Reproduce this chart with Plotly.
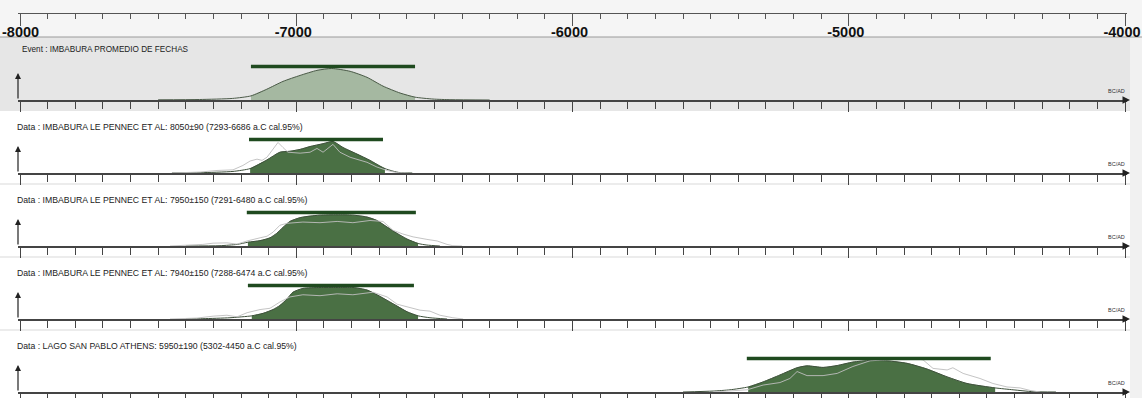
import plotly.graph_objects as go

W, H = 1142, 398

# ---------------- data ----------------
titles = [
    "Event : IMBABURA PROMEDIO DE FECHAS",
    "Data : IMBABURA LE PENNEC ET AL: 8050±90 (7293-6686 a.C cal.95%)",
    "Data : IMBABURA LE PENNEC ET AL: 7950±150 (7291-6480 a.C cal.95%)",
    "Data : IMBABURA LE PENNEC ET AL: 7940±150 (7288-6474 a.C cal.95%)",
    "Data : LAGO SAN PABLO ATHENS: 5950±190 (5302-4450 a.C cal.95%)",
]

axis_ticks = [-8000, -7000, -6000, -5000, -4000]
axis_labels = ["-8000", "-7000", "-6000", "-5000", "-4000"]

# panel 1 (event)
p1_x = [-7500, -7350, -7230, -7164, -7107, -7048, -6986, -6925, -6872, -6805, -6744, -6686, -6624, -6570, -6505, -6440, -6300]
p1_y = [0.006, 0.016, 0.05, 0.13, 0.34, 0.59, 0.78, 0.94, 1.0, 0.91, 0.72, 0.44, 0.22, 0.09, 0.03, 0.01, 0.0]
p1_range = [-7164, -6570]
p1_bar = [-7164, -6570]

# panel 2
p2_x = [-7450, -7348, -7229, -7167, -7107, -7059, -7023, -6986, -6950, -6903, -6867, -6831, -6780, -6733, -6697, -6679, -6650, -6624, -6580]
p2_y = [0, 0.01, 0.05, 0.14, 0.41, 0.66, 0.69, 0.75, 0.84, 0.93, 1.0, 0.81, 0.6, 0.4, 0.22, 0.14, 0.06, 0.01, 0]
p2_lx = [-7450, -7348, -7287, -7229, -7193, -7167, -7142, -7124, -7106, -7084, -7066, -7048, -7030, -6986, -6950, -6925, -6903, -6867, -6842, -6805, -6744, -6708, -6671, -6635, -6600]
p2_ly = [0, 0.03, 0.08, 0.1, 0.24, 0.38, 0.44, 0.4, 0.5, 0.75, 0.97, 0.81, 0.66, 0.63, 0.66, 0.78, 0.66, 0.91, 0.66, 0.5, 0.34, 0.19, 0.08, 0.01, 0]
p2_range = [-7167, -6679]
p2_bar = [-7171, -6686]

# panel 3
p3_x = [-7400, -7276, -7214, -7175, -7131, -7095, -7071, -7048, -7023, -6986, -6950, -6914, -6852, -6795, -6744, -6708, -6671, -6635, -6599, -6559, -6527, -6480]
p3_y = [0, 0.01, 0.05, 0.12, 0.17, 0.26, 0.4, 0.59, 0.78, 0.9, 0.95, 0.98, 0.99, 0.98, 0.92, 0.81, 0.6, 0.4, 0.22, 0.08, 0.03, 0]
p3_lx = [-7457, -7395, -7338, -7301, -7251, -7214, -7178, -7131, -7106, -7084, -7059, -7033, -6976, -6914, -6852, -6795, -6733, -6686, -6650, -6614, -6577, -6527, -6490, -6454, -6433, -6400]
p3_ly = [0, 0.02, 0.05, 0.09, 0.1, 0.06, 0.16, 0.26, 0.31, 0.44, 0.66, 0.72, 0.76, 0.74, 0.78, 0.74, 0.81, 0.78, 0.5, 0.38, 0.29, 0.21, 0.16, 0.05, 0.01, 0]
p3_range = [-7175, -6559]
p3_bar = [-7179, -6567]

# panel 4
p4_x = [-7400, -7338, -7240, -7161, -7120, -7084, -7059, -7033, -7012, -6976, -6914, -6852, -6795, -6744, -6708, -6671, -6635, -6599, -6559, -6516, -6454]
p4_y = [0, 0.01, 0.04, 0.1, 0.18, 0.3, 0.43, 0.64, 0.85, 0.97, 1.0, 1.0, 1.0, 0.92, 0.77, 0.59, 0.41, 0.23, 0.1, 0.04, 0]
p4_lx = [-7457, -7359, -7301, -7251, -7214, -7178, -7131, -7095, -7059, -7023, -6976, -6914, -6852, -6795, -6722, -6671, -6635, -6599, -6552, -6516, -6480, -6433, -6396]
p4_ly = [0, 0.03, 0.09, 0.12, 0.07, 0.2, 0.3, 0.34, 0.54, 0.7, 0.77, 0.74, 0.8, 0.77, 0.85, 0.7, 0.47, 0.38, 0.28, 0.25, 0.12, 0.04, 0]
p4_range = [-7161, -6559]
p4_bar = [-7175, -6574]

# panel 5
p5_x = [-5600, -5491, -5430, -5364, -5310, -5249, -5187, -5151, -5093, -5042, -4985, -4923, -4861, -4789, -4717, -4644, -4572, -4470, -4405, -4333, -4250]
p5_y = [0, 0.03, 0.07, 0.16, 0.32, 0.54, 0.77, 0.83, 0.78, 0.84, 0.95, 1.0, 0.99, 0.91, 0.73, 0.48, 0.27, 0.13, 0.07, 0.01, 0]
p5_lx = [-5491, -5368, -5310, -5249, -5213, -5187, -5151, -5093, -5042, -4985, -4923, -4861, -4767, -4731, -4695, -4644, -4623, -4586, -4525, -4478, -4427, -4380, -4344, -4308]
p5_ly = [0, 0.07, 0.22, 0.3, 0.43, 0.65, 0.52, 0.52, 0.59, 0.81, 0.99, 1.02, 1.07, 1.02, 0.75, 0.7, 0.77, 0.59, 0.43, 0.27, 0.16, 0.13, 0.05, 0]
p5_range = [-5364, -4470]
p5_bar = [-5369, -4486]

panels = [
    dict(x=p1_x, y=p1_y, lx=None, ly=None, rng=p1_range, bar=p1_bar),
    dict(x=p2_x, y=p2_y, lx=p2_lx, ly=p2_ly, rng=p2_range, bar=p2_bar),
    dict(x=p3_x, y=p3_y, lx=p3_lx, ly=p3_ly, rng=p3_range, bar=p3_bar),
    dict(x=p4_x, y=p4_y, lx=p4_lx, ly=p4_ly, rng=p4_range, bar=p4_bar),
    dict(x=p5_x, y=p5_y, lx=p5_lx, ly=p5_ly, rng=p5_range, bar=p5_bar),
]

# ---------------- layout geometry (pixels) ----------------
X_LEFT, X_RIGHT = 18, 1127           # axis extent in px
PX_PER_YEAR = 1105 / 4000.0
XR = [-8000 - (20 - X_LEFT) / PX_PER_YEAR, -4000 + (X_RIGHT - 1125) / PX_PER_YEAR]
XDOM = [X_LEFT / W, X_RIGHT / W]
baselines = [100, 173, 246, 319, 392]
panel_tops = [37, 111, 184, 257, 330]
title_y = [50, 127, 200, 273, 346]
title_x = [20, 15, 15, 15, 15]
title_size = [8.2, 8.7, 8.7, 8.7, 8.7]
UNIT_PX = 31.5
DOM_PX = 40
BAR_LEVEL = 33.5 / UNIT_PX
FONT = "Liberation Sans"


def py(p):
    return 1 - p / H


minor_vals = list(range(-8000, -3999, 100))
tick_font = dict(family=FONT, size=14.5, color="#111", weight="bold")

fig = go.Figure()
layout = dict(
    width=W, height=H, margin=dict(l=0, r=0, t=0, b=0),
    paper_bgcolor="white", plot_bgcolor="rgba(0,0,0,0)",
    showlegend=False,
)

# top axis: short major ticks + labels (first label drawn separately against the left edge)
layout["xaxis"] = dict(
    domain=XDOM, range=XR, anchor="y", showline=True, linecolor="#555", linewidth=1,
    tickmode="array", tickvals=axis_ticks, ticktext=[""] + axis_labels[1:], ticks="outside",
    ticklen=6, tickcolor="#555", tickwidth=1, tickfont=tick_font, showgrid=False,
    zeroline=False, ticklabelshift=-3, automargin=False,
    minor=dict(tickmode="array", tickvals=minor_vals, ticks="outside", ticklen=5,
               tickcolor="#555", tickwidth=1, showgrid=False),
)
# overlay axis providing the long major ticks
layout["xaxis7"] = dict(
    domain=XDOM, range=XR, anchor="y", overlaying="x", matches="x", showline=False,
    tickmode="array", tickvals=axis_ticks, ticks="outside", ticklen=12, tickcolor="#555",
    tickwidth=1, showticklabels=False, showgrid=False, zeroline=False, automargin=False,
)
layout["yaxis"] = dict(domain=[py(13), 1], range=[0, 1], visible=False, anchor="x")
fig.add_trace(go.Scatter(x=[], y=[], xaxis="x", yaxis="y"))
fig.add_trace(go.Scatter(x=[], y=[], xaxis="x7", yaxis="y"))

shapes = []
annotations = []

# first axis label, pushed against the left edge
annotations.append(dict(text=axis_labels[0], xref="paper", yref="paper", x=0, y=py(31.5),
                        xanchor="left", yanchor="middle", xshift=0, showarrow=False,
                        font=tick_font))

# backgrounds
shapes.append(dict(type="rect", xref="paper", yref="paper", x0=0, x1=1, y0=py(37), y1=1,
                   fillcolor="#f5f5f5", line_width=0, layer="below"))
shapes.append(dict(type="rect", xref="paper", yref="paper", x0=0, x1=1130 / W, y0=py(111), y1=py(37),
                   fillcolor="#e6e6e6", line_width=0, layer="below"))
shapes.append(dict(type="rect", xref="paper", yref="paper", x0=1130 / W, x1=1, y0=0, y1=py(37),
                   fillcolor="#f1f1f1", line_width=0, layer="below"))
shapes.append(dict(type="line", xref="paper", yref="paper", x0=0, x1=1, y0=py(37), y1=py(37),
                   line=dict(color="#9a9a9a", width=1), layer="below"))
for t in panel_tops[2:]:
    shapes.append(dict(type="line", xref="paper", yref="paper", x0=0, x1=1130 / W, y0=py(t), y1=py(t),
                       line=dict(color="#ececec", width=2), layer="below"))

for i, p in enumerate(panels):
    k = i + 2
    xa, ya = f"x{k}", f"y{k}"
    yb = baselines[i]
    layout[f"xaxis{k}"] = dict(
        domain=XDOM, range=XR, anchor=ya, matches="x", showline=True, linecolor="#444",
        linewidth=1.5, tickmode="array", tickvals=axis_ticks, ticks="outside", ticklen=10,
        tickcolor="#444", tickwidth=1, showticklabels=False, showgrid=False, zeroline=False,
        automargin=False,
        minor=dict(tickmode="array", tickvals=minor_vals, ticks="outside", ticklen=7,
                   tickcolor="#444", tickwidth=1, showgrid=False),
    )
    layout[f"yaxis{k}"] = dict(domain=[py(yb), py(yb - DOM_PX)], range=[0, DOM_PX / UNIT_PX],
                               visible=False, anchor=xa)

    lo, hi = p["rng"]
    fx = [xv for xv in p["x"] if lo <= xv <= hi]
    fy = [yv for xv, yv in zip(p["x"], p["y"]) if lo <= xv <= hi]
    if i == 0:
        fillc, linec = "#a5b8a1", "#4b5a48"
    else:
        fillc, linec = "#4a7044", "#3d4f3a"
    fig.add_trace(go.Scatter(x=fx, y=fy, xaxis=xa, yaxis=ya, mode="lines", fill="tozeroy",
                             fillcolor=fillc, line=dict(color=fillc, width=0.5, shape="spline", smoothing=0.6),
                             hoverinfo="skip"))
    fig.add_trace(go.Scatter(x=p["x"], y=p["y"], xaxis=xa, yaxis=ya, mode="lines",
                             line=dict(color=linec, width=1, shape="spline", smoothing=0.6),
                             hoverinfo="skip"))
    if p["lx"] is not None:
        fig.add_trace(go.Scatter(x=p["lx"], y=p["ly"], xaxis=xa, yaxis=ya, mode="lines",
                                 line=dict(color="rgba(190,190,190,0.9)", width=1),
                                 hoverinfo="skip"))
    fig.add_trace(go.Scatter(x=p["bar"], y=[BAR_LEVEL, BAR_LEVEL], xaxis=xa, yaxis=ya, mode="lines",
                             line=dict(color="#1f4a1f", width=3.5), hoverinfo="skip"))

    # title
    annotations.append(dict(text=titles[i], xref="paper", yref="paper", x=title_x[i] / W, y=py(title_y[i]),
                            xanchor="left", yanchor="middle", showarrow=False,
                            font=dict(family=FONT, size=title_size[i], color="#222")))
    # up arrow
    annotations.append(dict(text="", xref="paper", yref="paper", x=X_LEFT / W, y=py(yb - 27),
                            ax=0, ay=27, showarrow=True, arrowhead=2, arrowsize=1, arrowwidth=1.2,
                            arrowcolor="#222", standoff=0))
    # right arrow head
    annotations.append(dict(text="", xref="paper", yref="paper", x=(X_RIGHT + 3) / W, y=py(yb),
                            ax=-8, ay=0, showarrow=True, arrowhead=2, arrowsize=1, arrowwidth=1.5,
                            arrowcolor="#222", standoff=0))
    annotations.append(dict(text="BC/AD", xref="paper", yref="paper", x=X_RIGHT / W, y=py(yb - 9),
                            xanchor="right", yanchor="middle", showarrow=False,
                            font=dict(family=FONT, size=5.5, color="#333")))

layout["shapes"] = shapes
layout["annotations"] = annotations
fig.update_layout(**layout)
fig.write_html(
    "out.html",
    config={"displayModeBar": False},
    post_script="document.body.style.margin='0';document.body.style.overflow='hidden';",
)
